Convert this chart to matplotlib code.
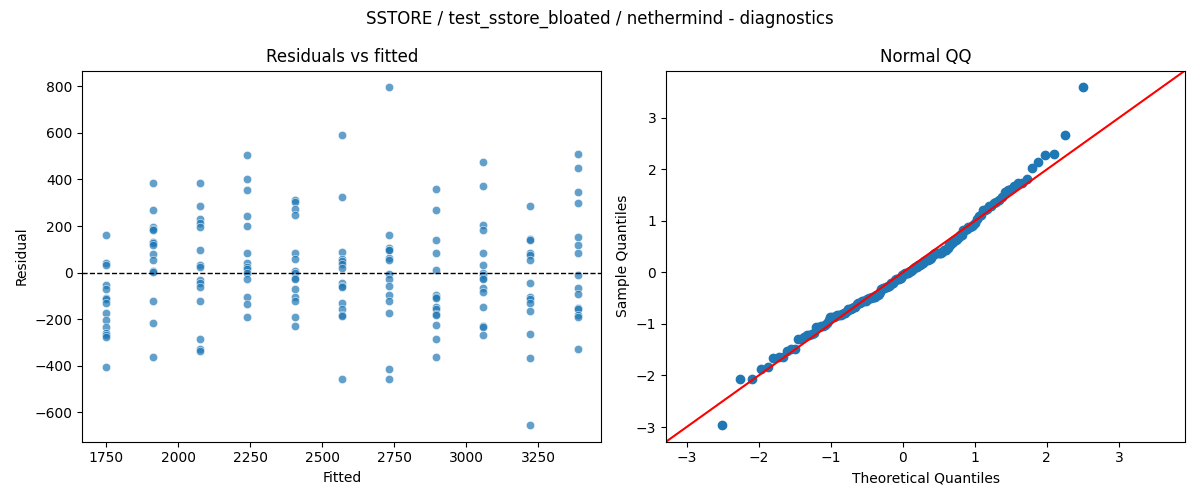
#!/usr/bin/env python3

# Residual diagnostics for the SSTORE bloated benchmark: residuals vs fitted and a normal QQ plot

import matplotlib
matplotlib.use("Agg")
import matplotlib.pyplot as plt
import seaborn as sns
import numpy as np
import pandas as pd
from statistics import NormalDist

TITLE = "SSTORE / test_sstore_bloated / nethermind - diagnostics"

# fitted value of each group (one per distinct input size)
fitted_levels = [1748, 1912, 2076, 2240, 2404, 2568, 2732, 2896, 3060, 3224, 3388]

# residuals read per fitted group
residual_groups = [
    [163, 43, 32, -52, -69, -109, -112, -132, -175, -204, -232, -258, -267, -275, -404],
    [383, 267, 196, 186, 184, 132, 126, 118, 80, 56, 6, 3, -120, -215, -361],
    [383, 288, 229, 215, 195, 99, 32, 23, -32, -46, -60, -120, -287, -330, -338],
    [503, 400, 353, 245, 198, 86, 43, 26, 14, 0, -26, -103, -135, -189],
    [313, 304, 275, 249, 86, 60, 6, -3, -23, -29, -69, -103, -123, -189, -229],
    [589, 323, 90, 57, 49, 37, 20, -46, -57, -63, -129, -155, -183, -186, -456],
    [795, 163, 106, 97, 95, 63, 54, -6, -29, -57, -97, -123, -175, -413, -456],
    [357, 267, 138, 86, 9, -97, -103, -109, -149, -155, -178, -183, -224, -284, -361],
    [477, 370, 204, 184, 82, 32, 0, -9, -23, -26, -66, -83, -146, -229, -235, -267],
    [288, 143, 141, 86, 77, 52, -43, -106, -115, -129, -163, -262, -366, -654],
    [508, 447, 344, 297, 151, 119, 86, -9, -66, -92, -152, -158, -181, -189, -327],
]


def build_frame():
    rows = []
    for fit, group in zip(fitted_levels, residual_groups):
        for r in group:
            rows.append({"fitted": fit, "resid": r})
    return pd.DataFrame(rows)


def qq_points(resid):
    # same as a fitted normal probability plot: standardise, plotting positions i/(n+1)
    x = np.sort(np.asarray(resid, dtype=float))
    n = len(x)
    sample = (x - x.mean()) / x.std()
    dist = NormalDist()
    theo = np.array([dist.inv_cdf(i / (n + 1)) for i in range(1, n + 1)])
    return theo, sample


def main():
    df = build_frame()

    fig, axes = plt.subplots(1, 2, figsize=(12, 5), dpi=100)

    ax = axes[0]
    sns.scatterplot(data=df, x="fitted", y="resid", ax=ax, alpha=0.7)
    ax.axhline(0, color="black", linestyle="--", linewidth=1)
    ax.set_xlabel("Fitted")
    ax.set_ylabel("Residual")
    ax.set_title("Residuals vs fitted")

    ax = axes[1]
    theo, sample = qq_points(df["resid"])
    ax.plot(theo, sample, marker="o", linestyle="none", color="C0")
    xlim, ylim = ax.get_xlim(), ax.get_ylim()
    lo, hi = min(xlim[0], ylim[0]), max(xlim[1], ylim[1])
    ax.plot([lo, hi], [lo, hi], color="r")
    ax.set_xlim(lo, hi)
    ax.set_ylim(lo, hi)
    ax.set_xlabel("Theoretical Quantiles")
    ax.set_ylabel("Sample Quantiles")
    ax.set_title("Normal QQ")

    fig.suptitle(TITLE)
    fig.tight_layout()
    fig.savefig("out.png")


if __name__ == '__main__':
    main()
